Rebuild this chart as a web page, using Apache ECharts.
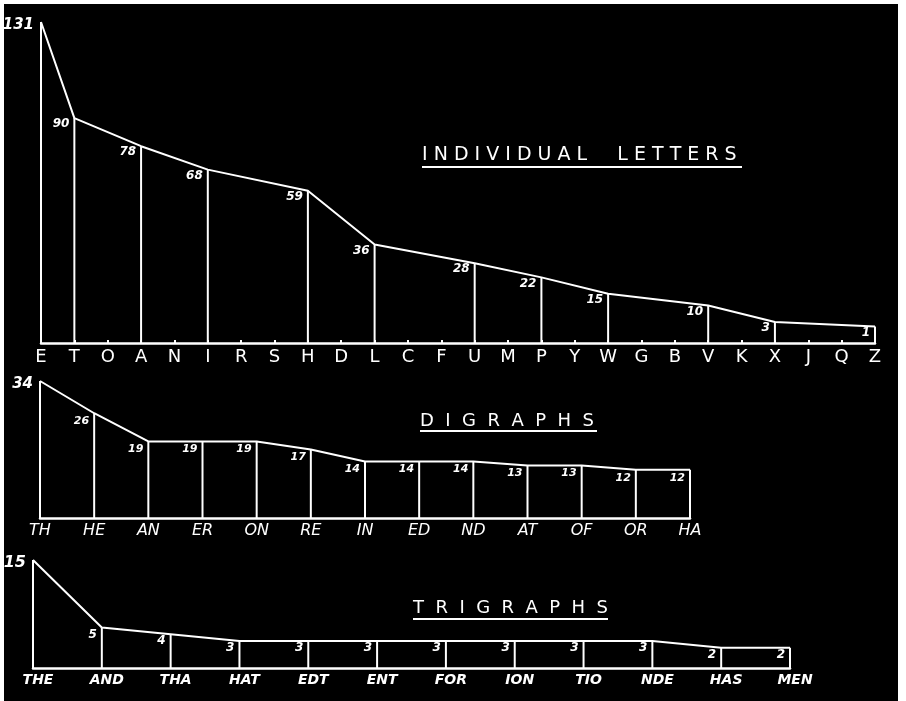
<!DOCTYPE html>
<html>
<head>
<meta charset="utf-8">
<script src="https://cdn.jsdelivr.net/npm/echarts@6/dist/echarts.min.js"></script>
<style>
  html, body { margin: 0; padding: 0; background: #fff; }
  #chart { width: 906px; height: 701px; }
</style>
</head>
<body>
<div id="chart"></div>
<script>
// frequency data
const letters = ['E', 'T', 'O', 'A', 'N', 'I', 'R', 'S', 'H', 'D', 'L', 'C', 'F', 'U', 'M', 'P', 'Y', 'W', 'G', 'B', 'V', 'K', 'X', 'J', 'Q', 'Z'];
const letterValues = [131, 90, null, 78, null, 68, null, null, 59, null, 36, null, null, 28, null, 22, null, 15, null, null, 10, null, 3, null, null, 1];

const digraphs = ['TH', 'HE', 'AN', 'ER', 'ON', 'RE', 'IN', 'ED', 'ND', 'AT', 'OF', 'OR', 'HA'];
const digraphValues = [34, 26, 19, 19, 19, 17, 14, 14, 14, 13, 13, 12, 12];

const trigraphs = ['THE', 'AND', 'THA', 'HAT', 'EDT', 'ENT', 'FOR', 'ION', 'TIO', 'NDE', 'HAS', 'MEN'];
const trigraphValues = [15, 5, 4, 3, 3, 3, 3, 3, 3, 3, 2, 2];

const FONT = "'DejaVu Sans', sans-serif";

const panels = [
  { cats: letters, values: letterValues, yMin: -6, yMax: 131,
    grid: { left: 41, right: 31, top: 22, bottom: 358 },
    catFont: { fontSize: 18, fontStyle: 'normal', fontWeight: 'normal' }, labelSizes: [15, 12], labelDy: 6 },
  { cats: digraphs, values: digraphValues, yMin: 0, yMax: 34,
    grid: { left: 40, right: 216, top: 381, bottom: 183 },
    catFont: { fontSize: 16, fontStyle: 'italic', fontWeight: 'normal' }, labelSizes: [15, 11], labelDy: 8 },
  { cats: trigraphs, values: trigraphValues, yMin: -1, yMax: 15,
    grid: { left: 33, right: 116, top: 560, bottom: 33 },
    catFont: { fontSize: 14, fontStyle: 'italic', fontWeight: 'bold', padding: [0, 0, 0, 10] }, labelSizes: [16, 12], labelDy: 7 }
];

function dropRender(p) {
  return function (params, api) {
    const x = api.value(0);
    const v = api.value(1);
    const top = api.coord([x, v]);
    const bot = api.coord([x, p.yMin]);
    const first = params.dataIndex === 0;
    const size = first ? p.labelSizes[0] : p.labelSizes[1];
    return {
      type: 'group',
      children: [
        { type: 'line', shape: { x1: top[0], y1: top[1], x2: bot[0], y2: bot[1] },
          style: { stroke: '#fff', lineWidth: 2 } },
        { type: 'text',
          style: { text: String(v), x: top[0] - (first ? 7 : 5), y: top[1] + (first ? 3 : p.labelDy),
            align: 'right', verticalAlign: 'middle', fill: '#fff',
            font: 'italic bold ' + size + 'px ' + FONT } }
      ]
    };
  };
}

const chart = echarts.init(document.getElementById('chart'), null, { renderer: 'canvas' });

const grids = [], xAxes = [], yAxes = [], series = [];
panels.forEach((p, i) => {
  grids.push(p.grid);
  xAxes.push({
    type: 'category', gridIndex: i, data: p.cats, boundaryGap: false,
    axisLine: { onZero: false, lineStyle: { color: '#fff', width: 2.5 } },
    axisTick: { show: i === 0, inside: true, length: 3, lineStyle: { color: '#fff', width: 2 } },
    axisLabel: Object.assign({ color: '#fff', margin: 5, fontFamily: FONT, interval: 0 }, p.catFont),
    splitLine: { show: false }
  });
  yAxes.push({ type: 'value', gridIndex: i, min: p.yMin, max: p.yMax, show: false });
  series.push({
    type: 'line', xAxisIndex: i, yAxisIndex: i, data: p.values,
    connectNulls: true, symbol: 'none', z: 3,
    lineStyle: { color: '#fff', width: 2 }
  });
  series.push({
    type: 'custom', xAxisIndex: i, yAxisIndex: i, coordinateSystem: 'cartesian2d',
    encode: { x: 0, y: 1 }, z: 2,
    data: p.values.map((v, k) => (v == null ? null : [k, v])).filter(Boolean),
    renderItem: dropRender(p)
  });
});

function title(text, x, y, x2, uy, size) {
  return [
    { type: 'text', left: x, top: y - 11,
      style: { text: text, fill: '#fff', font: size + 'px ' + FONT } },
    { type: 'line', shape: { x1: x, y1: uy, x2: x2, y2: uy },
      style: { stroke: '#fff', lineWidth: 2 } }
  ];
}

chart.setOption({
  animation: false,
  backgroundColor: '#fff',
  graphic: [
    { type: 'rect', z: -10, shape: { x: 4, y: 4, width: 894, height: 700 }, style: { fill: '#000' } }
  ].concat(
    title('I N D I V I D U A L     L E T T E R S', 422, 157, 742, 167, 19),
    title('D  I  G  R  A  P  H  S', 420, 423, 597, 431, 18),
    title('T  R  I  G  R  A  P  H  S', 413, 610, 608, 619, 18)
  ),
  grid: grids,
  xAxis: xAxes,
  yAxis: yAxes,
  series: series
});
</script>
</body>
</html>
